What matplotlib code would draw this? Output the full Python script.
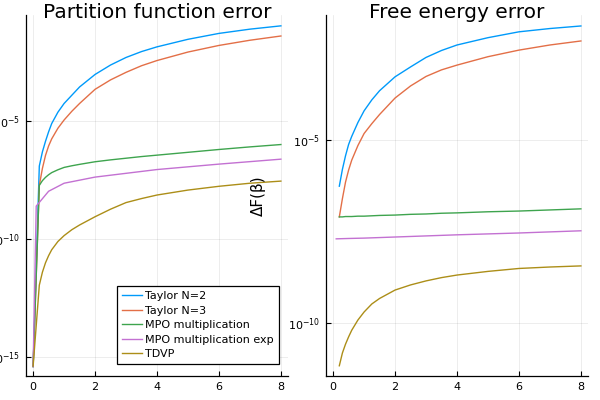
import numpy as np
import matplotlib
matplotlib.use("Agg")
import matplotlib.pyplot as plt
from matplotlib.ticker import FixedLocator, LogFormatterMathtext

# values are log10 of the error
beta = [0, 0.2, 0.3, 0.4, 0.5, 0.6, 0.8, 1.0, 1.25, 1.5, 2, 2.5, 3, 3.5, 4, 5, 6, 7, 8]
z_taylor2 = [-15.4, -6.9, -6.3, -5.85, -5.45, -5.1, -4.62, -4.25, -3.9, -3.55, -3.02,
             -2.62, -2.3, -2.05, -1.85, -1.53, -1.28, -1.10, -0.96]
z_taylor3 = [-15.4, -7.72, -7.0, -6.45, -6.05, -5.75, -5.3, -4.95, -4.58, -4.25, -3.65,
             -3.25, -2.93, -2.65, -2.43, -2.07, -1.79, -1.57, -1.39]
z_mpo = [-15.4, -7.72, -7.52, -7.38, -7.27, -7.18, -7.06, -6.96, -6.89, -6.83, -6.72,
         -6.64, -6.57, -6.50, -6.44, -6.32, -6.20, -6.09, -5.99]
z_tdvp = [-15.38, -11.95, -11.4, -11.0, -10.7, -10.45, -10.1, -9.85, -9.6, -9.4, -9.05,
          -8.73, -8.45, -8.28, -8.13, -7.92, -7.76, -7.63, -7.54]
beta_exp = [0, 0.1, 0.5, 1, 2, 4, 6, 8]
z_mpo_exp = [-15.4, -8.60, -7.97, -7.63, -7.37, -7.05, -6.82, -6.61]

beta_f = [0.2, 0.3, 0.4, 0.5, 0.6, 0.8, 1.0, 1.25, 1.5, 2, 2.5, 3, 3.5, 4, 5, 6, 7, 8]
f_taylor2 = [-6.26, -5.8, -5.43, -5.12, -4.9, -4.52, -4.2, -3.9, -3.65, -3.27, -3.0,
             -2.74, -2.55, -2.40, -2.20, -2.04, -1.95, -1.88]
f_taylor3 = [-7.1, -6.6, -6.15, -5.82, -5.55, -5.15, -4.82, -4.55, -4.3, -3.85, -3.52,
             -3.26, -3.08, -2.95, -2.72, -2.54, -2.40, -2.29]
f_mpo = [-7.10, -7.10, -7.09, -7.09, -7.09, -7.08, -7.08, -7.07, -7.06, -7.05, -7.03,
         -7.02, -7.00, -6.99, -6.96, -6.94, -6.91, -6.88]
f_tdvp = [-11.17, -10.82, -10.58, -10.38, -10.2, -9.92, -9.7, -9.48, -9.33, -9.10, -8.96,
          -8.85, -8.76, -8.69, -8.59, -8.51, -8.47, -8.44]
beta_f_exp = [0.1, 0.5, 1, 2, 4, 6, 8]
f_mpo_exp = [-7.70, -7.69, -7.68, -7.65, -7.59, -7.54, -7.48]

labels = ["Taylor N=2", "Taylor N=3", "MPO multiplication", "MPO multiplication exp", "TDVP"]
colors = ["#009AFA", "#E36F47", "#3EA44E", "#C371D2", "#AC8E18"]

fig = plt.figure(figsize=(6, 4), dpi=100)
ax1 = fig.add_axes([26/600, 24/400, 262/600, 361/400])
ax2 = fig.add_axes([326/600, 24/400, 262/600, 361/400])

left = [(beta, z_taylor2), (beta, z_taylor3), (beta, z_mpo), (beta_exp, z_mpo_exp), (beta, z_tdvp)]
right = [(beta_f, f_taylor2), (beta_f, f_taylor3), (beta_f, f_mpo), (beta_f_exp, f_mpo_exp), (beta_f, f_tdvp)]

for (x, z), c, lab in zip(left, colors, labels):
    ax1.plot(x, 10.0 ** np.array(z), color=c, lw=1.0, label=lab)
for (x, z), c in zip(right, colors):
    ax2.plot(x, 10.0 ** np.array(z), color=c, lw=1.0)

for ax in (ax1, ax2):
    ax.set_yscale("log")
    ax.set_xlim(-0.23, 8.23)
    ax.set_xticks([0, 2, 4, 6, 8])
    ax.yaxis.set_minor_locator(FixedLocator([]))
    ax.yaxis.set_major_formatter(LogFormatterMathtext())
    ax.spines["top"].set_visible(False)
    ax.spines["right"].set_visible(False)
    ax.spines["left"].set_linewidth(0.9)
    ax.spines["bottom"].set_linewidth(0.9)
    ax.tick_params(direction="in", length=3.5, width=0.8, labelsize=8, pad=4)
    ax.grid(True, color="black", alpha=0.1, lw=0.5)

ax1.set_ylim(10 ** -15.8, 10 ** -0.5)
ax1.yaxis.set_major_locator(FixedLocator([1e-15, 1e-10, 1e-5]))
ax2.set_ylim(10 ** -11.45, 10 ** -1.58)
ax2.yaxis.set_major_locator(FixedLocator([1e-10, 1e-5]))

# y=1.0 fixes the title so matplotlib does not push it above the axes
ax1.set_title("Partition function error", fontsize=14.5, y=1.0, pad=-2.4)
ax2.set_title("Free energy error", fontsize=14.5, y=1.0, pad=-2.4)
ax2.set_ylabel("ΔF(β)", fontsize=11)
ax2.yaxis.set_label_coords(-0.229, 0.5)

leg = ax1.legend(loc="lower right", bbox_to_anchor=(0.966, 0.033), borderaxespad=0,
                 fontsize=8, fancybox=False, framealpha=1, edgecolor="black",
                 handlelength=1.8, handletextpad=0.35, labelspacing=0.4, borderpad=0.45)
leg.get_frame().set_linewidth(0.9)

fig.savefig("out.png", dpi=100)
